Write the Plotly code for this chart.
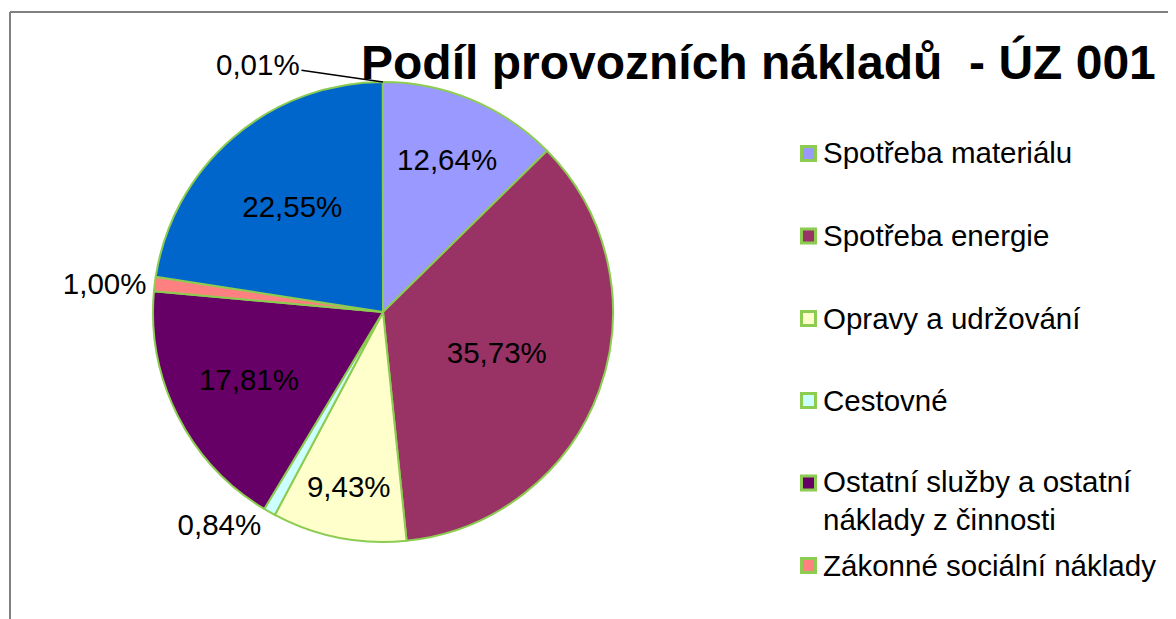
import math
import plotly.graph_objects as go

# ---- data ----
labels = [
    "Spotřeba materiálu",
    "Spotřeba energie",
    "Opravy a udržování",
    "Cestovné",
    "Ostatní služby a ostatní náklady z činnosti",
    "Zákonné sociální náklady",
    "Odpisy",
    "Ostatní náklady",
]
values = [12.64, 35.73, 9.43, 0.84, 17.81, 1.00, 22.55, 0.01]
colors = ["#9999FF", "#993366", "#FFFFCC", "#CCFFFF", "#660066", "#FF8080", "#0066CC", "#CCCCFF"]
legend_texts = [
    "Spotřeba materiálu",
    "Spotřeba energie",
    "Opravy a udržování",
    "Cestovné",
    "Ostatní služby a ostatní<br>náklady z činnosti",
    "Zákonné sociální náklady",
]
title_text = "Podíl provozních nákladů  - ÚZ 001"

# ---- layout constants (page pixels; the page body has an 8px margin) ----
OFF = 8
W, H = 1176 - OFF, 619 - OFF
CX, CY, R = 383, 312, 230
FONT = "Liberation Sans, Arial, sans-serif"
GREEN = "#8CCC50"


def px(x):
    return (x - OFF) / W


def py(y):
    return 1 - (y - OFF) / H


pct_text = [f"{v:.2f}%".replace(".", ",") for v in values]
positions = ["inside", "inside", "inside", "outside", "inside", "outside", "inside", "none"]
shown_text = [t if p != "none" else "" for t, p in zip(pct_text, positions)]
positions = [p if p != "none" else "inside" for p in positions]

fig = go.Figure(
    go.Pie(
        labels=labels,
        values=values,
        text=shown_text,
        textinfo="text",
        textposition=positions,
        insidetextorientation="horizontal",
        sort=False,
        direction="clockwise",
        rotation=0,
        marker=dict(colors=colors, line=dict(color=GREEN, width=2)),
        textfont=dict(family=FONT, size=29.5, color="black"),
        insidetextfont=dict(family=FONT, size=29.5, color="black"),
        outsidetextfont=dict(family=FONT, size=29.5, color="black"),
        domain=dict(
            x=[px(CX - R), px(CX + R)],
            y=[py(CY + R), py(CY - R)],
        ),
        showlegend=False,
        hoverinfo="label+percent",
    )
)

shapes = [
    dict(type="line", xref="paper", yref="paper", x0=px(10), x1=px(10), y0=0, y1=py(12),
         line=dict(color="#808080", width=2)),
    dict(type="line", xref="paper", yref="paper", x0=px(10), x1=1, y0=py(12), y1=py(12),
         line=dict(color="#808080", width=2)),
]
annotations = [
    dict(text=f"<b>{title_text}</b>", xref="paper", yref="paper", x=px(758), y=py(62),
         xanchor="center", yanchor="middle", showarrow=False,
         font=dict(family=FONT, size=48, color="black")),
]

# custom legend (first six categories)
legend_y = [152.5, 235.5, 318, 400, 500, 565]
marker_y = [153.5, 236, 318.5, 400.5, 483, 565.5]
for txt, col, ly, my in zip(legend_texts, colors, legend_y, marker_y):
    shapes.append(dict(type="rect", xref="paper", yref="paper",
                       x0=px(801.5), x1=px(815.5), y0=py(my + 7), y1=py(my - 7),
                       fillcolor=col, line=dict(color=GREEN, width=3)))
    annotations.append(dict(text=txt, xref="paper", yref="paper", x=px(821), y=py(ly),
                            xanchor="left", yanchor="middle", align="left", showarrow=False,
                            font=dict(family=FONT, size=29.5, color="black")))

# leader label for the tiny last slice, anchored on the slice from the data
cum_before = sum(values[:-1])
mid_frac = (cum_before + values[-1] / 2) / sum(values)
ang = 2 * math.pi * mid_frac
tip_x = CX + R * math.sin(ang)
tip_y = CY - R * math.cos(ang)
annotations.append(dict(text=pct_text[-1], xref="paper", yref="paper",
                        x=px(tip_x), y=py(tip_y), ax=-125, ay=-18,
                        showarrow=True, arrowhead=0, arrowwidth=1.5, arrowcolor="black",
                        font=dict(family=FONT, size=29.5, color="black")))

fig.update_layout(
    width=W, height=H,
    margin=dict(l=0, r=0, t=0, b=0),
    paper_bgcolor="white",
    plot_bgcolor="white",
    shapes=shapes,
    annotations=annotations,
    uniformtext=dict(minsize=29.5, mode="show"),
)

fig.write_html("out.html")
